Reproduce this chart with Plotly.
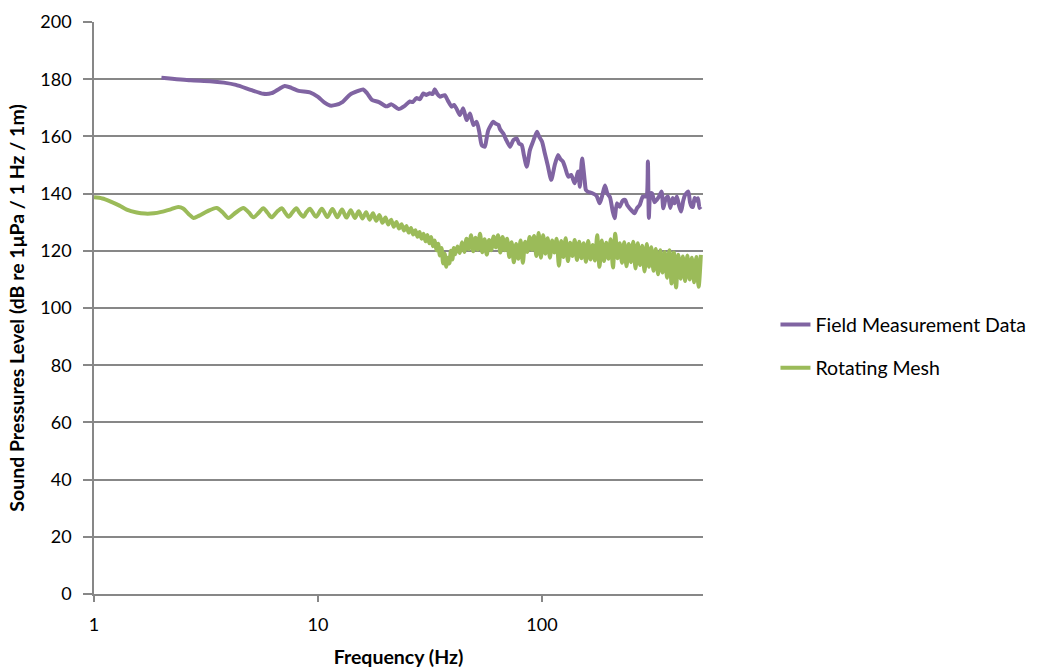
import numpy as np
import plotly.graph_objects as go

# ---- Field measurement spectrum (frequency in Hz, SPL in dB) ----
field_freq = [2.0, 2.7, 3.3, 3.8, 4.3, 5.0, 5.7, 6.2, 6.7, 7.1, 7.6, 8.2, 9.2, 10.0, 10.7,
              11.3, 12.0, 12.9, 13.9, 15.0, 15.9, 16.6, 17.4, 18.7, 20.2, 21.3, 22.9, 24.3,
              25.7, 26.5, 27.5, 28.5, 29.5, 30.5, 31.6, 32.5, 33.2, 34.0, 35.0, 36.8, 38.0,
              39.5, 40.5, 41.6, 43.0, 44.5, 45.5, 46.1, 47.7, 49.4, 51.1, 52.5, 53.8, 55.6,
              56.5, 57.6, 60.6, 62.0, 63.9, 65.0, 67.2, 69.0, 72.0, 74.5, 77.1, 79.0, 81.2,
              83.0, 85.5, 88.3, 91.0, 95.0, 97.0, 100, 103, 106, 110, 114, 118, 121, 124,
              127, 131, 135, 140, 145, 147.6, 151, 155, 157, 160, 167, 175, 181, 186, 191,
              196, 201, 207, 211, 216, 222, 229, 235, 240, 246, 252, 259, 266, 273, 282,
              292, 297, 300, 305, 310, 318, 325, 333, 342, 348, 356, 365, 374, 383, 391,
              400, 410, 418, 427, 435, 441, 450, 458, 465, 472, 480, 490, 497, 505, 512]
field_spl = [180.5, 179.6, 179.3, 178.8, 178.0, 176.3, 174.9, 175.1, 176.6, 177.6, 177.0,
             175.9, 175.4, 173.8, 171.8, 170.8, 171.0, 172.1, 174.6, 175.8, 176.4, 175.0,
             172.8, 172.0, 170.5, 171.2, 169.6, 170.6, 172.2, 172.0, 173.4, 173.0, 175.0,
             174.5, 175.1, 174.8, 176.5, 175.0, 173.9, 174.4, 172.5, 170.4, 171.0, 169.6,
             167.5, 169.8, 167.0, 165.7, 168.0, 164.0, 165.1, 161.5, 157.0, 156.4, 159.0,
             162.2, 165.1, 164.5, 164.0, 162.5, 161.0, 159.0, 156.4, 158.7, 159.3, 157.5,
             157.0, 153.5, 149.4, 155.2, 158.0, 161.6, 160.0, 158.2, 154.0, 150.0, 144.8,
             150.0, 153.5, 152.0, 151.2, 149.0, 145.9, 146.5, 143.6, 147.7, 142.4, 152.3,
             144.8, 141.3, 140.7, 140.2, 139.3, 136.6, 139.5, 142.8, 140.0, 138.8, 133.7,
             131.4, 136.6, 135.4, 137.5, 137.8, 136.0, 134.9, 134.0, 133.1, 135.0, 136.0,
             139.0, 139.0, 151.2, 131.5, 140.0, 140.1, 137.0, 137.8, 139.0, 140.7, 134.9,
             138.0, 139.0, 135.0, 138.5, 136.6, 139.0, 135.5, 133.7, 137.5, 139.5, 140.1,
             140.7, 137.0, 135.5, 135.4, 138.5, 137.5, 138.4, 135.0, 135.4]

# ---- Rotating mesh simulation ----
# low-frequency section
mesh_freq_low = [1.0, 1.09, 1.18, 1.3, 1.4, 1.55, 1.69, 1.85, 2.0, 2.2, 2.38, 2.5, 2.65,
                 2.78, 2.95, 3.2, 3.53, 3.75, 3.98, 4.3, 4.64, 4.9, 5.15, 5.45, 5.7, 5.95,
                 6.2, 6.55, 6.9, 7.15, 7.4, 7.7, 8.0, 8.3, 8.6, 8.9, 9.2]
mesh_spl_low = [138.7, 138.3, 137.3, 135.8, 134.4, 133.4, 133.0, 133.1, 133.6, 134.5,
                135.3, 134.8, 132.8, 131.5, 132.3, 133.8, 135.0, 133.5, 131.5, 133.4,
                135.0, 133.5, 131.7, 133.4, 134.9, 133.3, 131.7, 133.6, 134.9, 133.2,
                131.9, 133.5, 134.9, 133.1, 131.9, 133.6, 134.7]

# mid section, 0.6 Hz spacing (alternating trough / crest)
mesh_freq_mid = np.round(np.arange(9.8, 40.41, 0.6), 1)
mesh_spl_mid = [131.9, 134.7, 131.8, 134.6, 131.7, 134.4, 131.6, 134.2, 131.5, 133.8,
                131.3, 133.5, 130.9, 133.1, 130.5, 132.5, 129.8, 131.6, 129.2, 130.9,
                128.4, 130.1, 127.8, 129.3, 127.1, 128.7, 126.4, 128.0, 125.7, 127.2,
                124.9, 126.6, 124.2, 126.0, 123.3, 125.5, 122.6, 124.8, 121.6, 123.6,
                120.2, 122.5, 118.4, 121.0, 115.6, 119.0, 114.4, 117.6, 115.6, 120.0,
                117.0, 121.0]

# high section on a log-spaced grid (alternating trough / crest)
mesh_freq_high = np.geomspace(41, 512, 110)
mesh_spl_high = [118.8, 121.5, 119.2, 123.0, 119.6, 124.2, 120.5, 125.4, 119.8, 124.6,
                 120.4, 126.0, 119.5, 124.0, 118.6, 123.8, 120.2, 125.0, 121.2, 125.4,
                 119.4, 124.8, 120.2, 124.2, 117.8, 123.0, 116.0, 122.4, 117.2, 123.6,
                 115.8, 123.2, 119.6, 124.8, 120.4, 125.2, 118.2, 126.2, 117.6, 125.4,
                 119.0, 124.4, 117.6, 123.6, 119.4, 124.2, 114.8, 123.4, 117.8, 124.4,
                 116.4, 122.8, 118.2, 123.8, 116.8, 123.2, 117.4, 122.6, 116.2, 123.4,
                 117.0, 122.0, 116.6, 125.4, 114.4, 123.6, 116.4, 122.8, 117.2, 124.0,
                 114.2, 126.0, 117.4, 122.6, 115.8, 123.0, 114.6, 122.4, 116.0, 123.2,
                 113.8, 122.6, 115.0, 121.8, 112.8, 122.4, 114.4, 121.2, 113.0, 120.6,
                 111.8, 120.2, 112.4, 119.6, 110.6, 120.2, 108.6, 119.4, 107.2, 118.6,
                 110.2, 118.0, 109.4, 118.4, 110.0, 117.6, 109.0, 117.8, 107.4, 118.6]

mesh_freq = list(mesh_freq_low) + list(mesh_freq_mid) + list(mesh_freq_high)
mesh_spl = mesh_spl_low + mesh_spl_mid + mesh_spl_high

x_ticks = [1, 10, 100]
y_ticks = list(range(0, 201, 20))

PURPLE = "#8064A2"
GREEN = "#9BBB59"
GRID = "#878787"
FONT = "Lato"
TICK_SIZE = 18
TEXT_SIZE = 19.5

fig = go.Figure()
fig.add_trace(go.Scatter(
    x=field_freq, y=field_spl, mode="lines", name="Field Measurement Data",
    legendgroup="a", line=dict(color=PURPLE, width=4, shape="spline", smoothing=0.6)))
fig.add_trace(go.Scatter(
    x=mesh_freq, y=mesh_spl, mode="lines", name="Rotating Mesh",
    legendgroup="b", line=dict(color=GREEN, width=4, shape="spline", smoothing=0.8)))

fig.update_layout(
    width=1037, height=668,
    margin=dict(l=94, r=334, t=22, b=74, autoexpand=False),
    paper_bgcolor="white", plot_bgcolor="white",
    font=dict(family=FONT, size=TEXT_SIZE, color="black"),
    showlegend=True,
    legend=dict(x=1.119, y=0.433, yanchor="middle", xanchor="left",
                font=dict(family=FONT, size=TEXT_SIZE), tracegroupgap=15,
                bgcolor="rgba(0,0,0,0)"),
)
fig.update_xaxes(
    type="log", range=[0, 2.7188], tickvals=x_ticks, ticktext=[str(v) for v in x_ticks],
    automargin=False,
    showgrid=False, zeroline=False, showline=True, linecolor=GRID, linewidth=1.5,
    ticks="outside", ticklen=6, tickcolor=GRID, tickwidth=1.5,
    tickfont=dict(family=FONT, size=TICK_SIZE), ticklabelstandoff=8,
    title=dict(text="<b>Frequency (Hz)</b>", font=dict(family=FONT, size=TEXT_SIZE),
               standoff=16),
)
fig.update_yaxes(
    range=[0, 200], tickvals=y_ticks, automargin=False,
    showgrid=True, gridcolor=GRID, gridwidth=1.5,
    zeroline=False, showline=True, linecolor=GRID, linewidth=1.5,
    ticks="outside", ticklen=9, tickcolor=GRID, tickwidth=1.5,
    tickfont=dict(family=FONT, size=TICK_SIZE), ticklabelstandoff=8,
    title=dict(text="<b>Sound Pressures Level (dB re 1μPa / 1 Hz / 1m)</b>",
               font=dict(family=FONT, size=TEXT_SIZE), standoff=10),
)

fig.write_html("out.html")
